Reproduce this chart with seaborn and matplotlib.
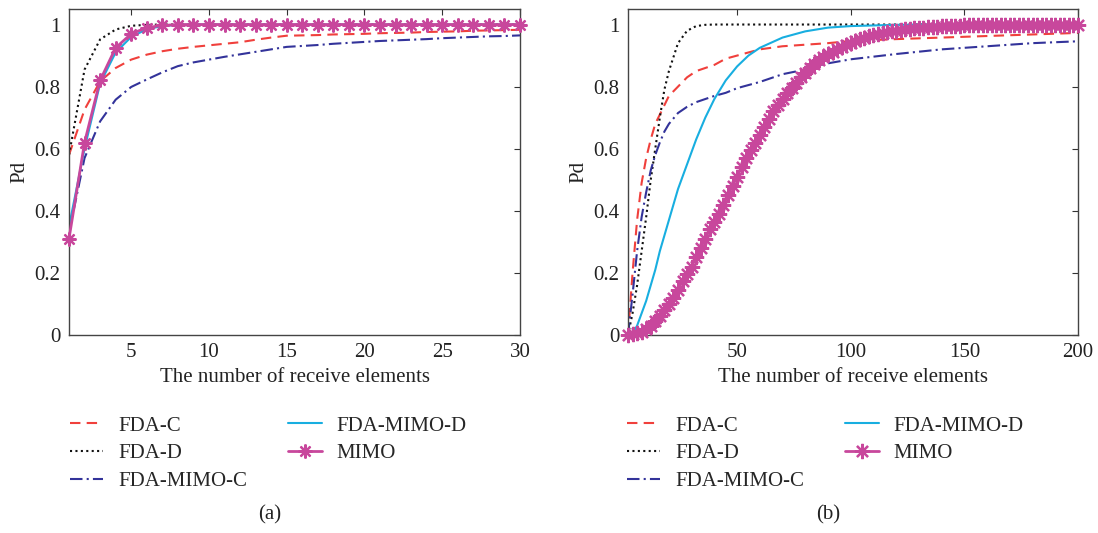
import numpy as np
import pandas as pd
import matplotlib
matplotlib.use("Agg")
import matplotlib.pyplot as plt
import seaborn as sns

sns.set_style("white")
plt.rcParams['font.family'] = ['Liberation Serif', 'DejaVu Serif']
plt.rcParams['font.size'] = 15

labels = ["FDA-C", "FDA-D", "FDA-MIMO-C", "FDA-MIMO-D", "MIMO"]

# panel (a): 1..30 receive elements
xa = list(range(1, 31))
a_fda_c = [0.58, 0.726, 0.817, 0.86, 0.887, 0.903, 0.914, 0.922, 0.928, 0.933,
           0.938, 0.943, 0.951, 0.958, 0.964, 0.965, 0.966, 0.968, 0.969, 0.970,
           0.972, 0.973, 0.974, 0.976, 0.977, 0.978, 0.980, 0.981, 0.982, 0.983]
a_fda_d = [0.58, 0.855, 0.952, 0.984, 0.996, 0.999, 1.0, 1.0, 1.0, 1.0,
           1.0, 1.0, 1.0, 1.0, 1.0, 1.0, 1.0, 1.0, 1.0, 1.0,
           1.0, 1.0, 1.0, 1.0, 1.0, 1.0, 1.0, 1.0, 1.0, 1.0]
a_mimo_c = [0.33, 0.57, 0.688, 0.758, 0.799, 0.823, 0.846, 0.866, 0.878, 0.887,
            0.896, 0.904, 0.912, 0.920, 0.928, 0.931, 0.934, 0.938, 0.941, 0.944,
            0.947, 0.949, 0.951, 0.953, 0.956, 0.958, 0.960, 0.962, 0.963, 0.965]
a_mimo_d = [0.35, 0.60, 0.81, 0.91, 0.96, 0.985, 0.995, 0.999, 1.0, 1.0,
            1.0, 1.0, 1.0, 1.0, 1.0, 1.0, 1.0, 1.0, 1.0, 1.0,
            1.0, 1.0, 1.0, 1.0, 1.0, 1.0, 1.0, 1.0, 1.0, 1.0]
a_mimo = [0.31, 0.62, 0.82, 0.925, 0.97, 0.99, 0.997, 1.0, 1.0, 1.0,
          1.0, 1.0, 1.0, 1.0, 1.0, 1.0, 1.0, 1.0, 1.0, 1.0,
          1.0, 1.0, 1.0, 1.0, 1.0, 1.0, 1.0, 1.0, 1.0, 1.0]

# panel (b): 2..200 receive elements
xb = [2, 4, 6, 8, 10, 12, 14, 16, 18, 20, 24, 28, 32, 36, 40, 45, 50, 55, 60,
      70, 80, 90, 100, 120, 140, 160, 180, 200]
b_fda_c = [0.0, 0.2, 0.37, 0.49, 0.57, 0.63, 0.68, 0.71, 0.74, 0.77, 0.80, 0.83,
           0.85, 0.86, 0.87, 0.89, 0.90, 0.91, 0.92, 0.93, 0.935, 0.94, 0.947,
           0.953, 0.958, 0.963, 0.968, 0.973]
b_fda_d = [0.0, 0.07, 0.16, 0.27, 0.38, 0.50, 0.60, 0.70, 0.79, 0.85, 0.94, 0.98,
           0.995, 0.999, 1.0, 1.0, 1.0, 1.0, 1.0, 1.0, 1.0, 1.0, 1.0,
           1.0, 1.0, 1.0, 1.0, 1.0]
b_mimo_c = [0.0, 0.13, 0.27, 0.38, 0.46, 0.53, 0.58, 0.62, 0.655, 0.68, 0.715, 0.735,
            0.75, 0.76, 0.77, 0.78, 0.795, 0.805, 0.815, 0.84, 0.855, 0.875, 0.888,
            0.905, 0.92, 0.93, 0.94, 0.946]
b_mimo_d = [0.0, 0.005, 0.03, 0.07, 0.11, 0.16, 0.21, 0.27, 0.32, 0.37, 0.47, 0.55,
            0.63, 0.70, 0.76, 0.82, 0.865, 0.90, 0.925, 0.958, 0.978, 0.99, 0.995,
            0.999, 1.0, 1.0, 1.0, 1.0]
xb_mimo = list(range(2, 201, 2))
b_mimo = [0.0, 0.002, 0.005, 0.01, 0.02, 0.03, 0.045, 0.06, 0.08, 0.10,
          0.12, 0.145, 0.175, 0.195, 0.22, 0.25, 0.28, 0.31, 0.34, 0.365,
          0.39, 0.42, 0.45, 0.48, 0.51, 0.54, 0.57, 0.595, 0.62, 0.645,
          0.67, 0.695, 0.72, 0.74, 0.76, 0.778, 0.795, 0.813, 0.83, 0.845,
          0.86, 0.873, 0.885, 0.895, 0.905, 0.913, 0.92, 0.928, 0.935, 0.942,
          0.948, 0.953, 0.958, 0.962, 0.966, 0.97, 0.973, 0.976, 0.978, 0.98,
          0.982, 0.984, 0.986, 0.988, 0.989, 0.99, 0.991, 0.992, 0.993, 0.994,
          0.995, 0.995, 0.996, 0.996, 0.997, 0.997, 0.998, 0.998, 0.998, 0.998,
          0.999, 0.999, 0.999, 0.999, 1.0, 1.0, 1.0, 1.0, 1.0, 1.0,
          1.0, 1.0, 1.0, 1.0, 1.0, 1.0, 1.0, 1.0, 1.0, 1.0]

colors = ["#f0403c", "#111111", "#33339a", "#18aee0", "#c8479c"]
styles = [(0, (5, 3)), (0, (1, 1.6)), (0, (6, 2, 1, 2)), "-", "-"]
asterisk = (8, 2, 0)

fig = plt.figure(figsize=(10.98, 5.33), dpi=100)
ax_a = fig.add_axes([69 / 1098, 1 - 335 / 533, 451 / 1098, 326 / 533])
ax_b = fig.add_axes([628 / 1098, 1 - 335 / 533, 450 / 1098, 326 / 533])

def draw(ax, xs, series, xm, ym, msize, mew):
    for i, ys in enumerate(series):
        sns.lineplot(x=xs, y=ys, ax=ax, color=colors[i], linestyle=styles[i],
                     linewidth=1.5, label=labels[i], legend=False, sort=False)
    sns.lineplot(x=xm, y=ym, ax=ax, color=colors[4], linewidth=2,
                 marker=asterisk, markersize=msize, markeredgewidth=mew,
                 markeredgecolor=colors[4], label=labels[4], legend=False,
                 sort=False, clip_on=False, zorder=5)

draw(ax_a, xa, [a_fda_c, a_fda_d, a_mimo_c, a_mimo_d], xa, a_mimo, 10, 1.6)
draw(ax_b, xb, [b_fda_c, b_fda_d, b_mimo_c, b_mimo_d], xb_mimo, b_mimo, 11, 1.6)

ax_a.set_xlim(1, 30)
ax_a.set_xticks([5, 10, 15, 20, 25, 30])
ax_b.set_xlim(2, 200)
ax_b.set_xticks([50, 100, 150, 200])

for ax in [ax_a, ax_b]:
    ax.set_ylim(0, 1.05)
    ax.set_yticks([0, 0.2, 0.4, 0.6, 0.8, 1])
    ax.set_yticklabels(["0", "0.2", "0.4", "0.6", "0.8", "1"])
    ax.tick_params(direction="in", top=True, right=True, length=4,
                   width=0.8, colors="#333333", labelcolor="#222222",
                   labelsize=15, pad=6)
    for s in ax.spines.values():
        s.set_color("#444444")
        s.set_linewidth(1.0)
    ax.set_xlabel("The number of receive elements", fontsize=15, color="#222222")
    ax.set_ylabel("Pd", fontsize=15, color="#222222", labelpad=4)

for ax, x0, xc, tag in [(ax_a, 70 / 1098, 270 / 1098, "(a)"),
                        (ax_b, 627 / 1098, 828 / 1098, "(b)")]:
    h, l = ax.get_legend_handles_labels()
    fig.legend(h, l, loc="upper left", bbox_to_anchor=(x0, 1 - 416 / 533),
               ncol=2, frameon=False, fontsize=15, handlelength=1.6,
               handletextpad=0.7, columnspacing=2.0, labelspacing=0.39,
               borderpad=0, borderaxespad=0)
    fig.text(xc, 1 - 515 / 533, tag, ha="center", va="center", fontsize=15,
             color="#222222")

fig.savefig("out.png", dpi=100)
